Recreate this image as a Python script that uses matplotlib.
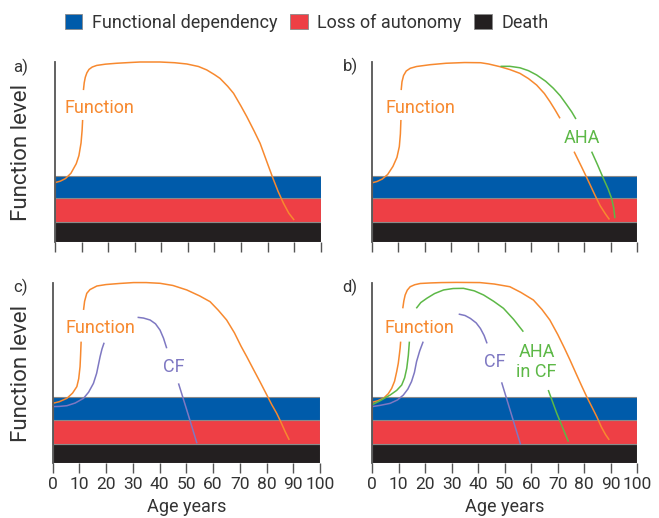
import numpy as np
import matplotlib
matplotlib.use("Agg")
import matplotlib.pyplot as plt
from matplotlib.patches import Patch

nan = np.nan

# ---------------- data ----------------
band_names = ["Death", "Loss of autonomy", "Functional dependency"]
band_bottoms = [0.0, 10.9, 24.2]
band_tops = [10.9, 24.2, 36.8]
legend_order = ["Functional dependency", "Loss of autonomy", "Death"]

x_ticks = [0, 10, 20, 30, 40, 50, 60, 70, 80, 90, 100]

# Panel a: Function
a_func_x = [0, 2, 4, 6, 8, 9, 9.8, 10.2, 10.4, nan,
            10.7, 11.0, 11.4, 12.0, 12.8, 14, 15.7, 19, 23.2, 28, 32, 39.5, 45, 49.6, 54, 57.1, 60,
            62.1, 65, 67.2, 70, 72.2, 75, 77.2, 80, 82, 84, 86, 88, 90]
a_func_y = [33, 33.8, 35.3, 38.2, 43.5, 48, 55, 62, 67.8, nan,
            84.4, 88.5, 91.5, 94, 95.9, 97.2, 98.1, 98.8, 99.3, 99.7, 100, 100, 99.6, 98.9, 97.5, 95.6, 93,
            90.9, 86.5, 82.6, 75.5, 69.6, 61.5, 54.8, 43.5, 35.5, 28, 21.5, 16, 12.2]

# Panel b: Function and AHA
b_func_x = [0.4, 2, 4, 6, 8, 9.5, 10.4, 10.8, 11.0, nan,
            11.1, 11.4, 12, 13, 14.5, 16.9, 22, 28, 35, 41, 44, 48.3, 52, 55.8, 59, 62.1, 65, 67.1, 69, 70.9, nan,
            76.2, 79, 81.6, 84, 86, 88, 89.5]
b_func_y = [33, 33.6, 35, 37.5, 42, 47, 53, 60, 67.8, nan,
            84.4, 89, 92.5, 95, 96.5, 97.5, 98.5, 99.3, 99.7, 99.6, 98.9, 97.4, 95.8, 93.7, 90.8, 87.2, 82.5, 78, 73.5, 68.7, nan,
            50.2, 41.8, 33.8, 26.2, 20.2, 15.6, 12.5]
b_aha_x = [48.5, 52, 55.8, 59, 62.1, 65.5, 68.4, 71, 73.4, 75.3, 76.9, nan,
           82.8, 85, 87.2, 89, 90.3, 91.1, 91.6]
b_aha_y = [97.6, 97.6, 96.8, 95.2, 92.8, 89.3, 85.4, 81.2, 76.3, 72.3, 68.3, nan,
           50.2, 43, 35.4, 29.5, 24.3, 19, 13.2]

# Panel c: Function and CF
c_func_x = [0, 2.5, 5.4, 7.5, 9.1, 9.8, 10.3, 10.5, 10.7, nan,
            11.6, 12, 12.8, 14, 16.6, 20, 25, 30.3, 35, 40.2, 45, 50.2, 55, 58.9, 62, 65.1, 68, 70.5,
            72.6, 75, 77.5, 80.1, 82, 83.8, 85.5, 87, 88.5]
c_func_y = [33.3, 34.2, 36.1, 39, 42.6, 47, 53.7, 60, 67.6, nan,
            85.2, 90, 94.4, 96.5, 98.5, 99.3, 99.9, 100.4, 100.4, 100, 98.8, 96.3, 93, 89.8, 85, 79.6, 72.5, 65,
            59.3, 52.5, 45.5, 38, 32.5, 27.8, 22.5, 17.5, 13]
c_cf_x = [0, 2.5, 5.4, 8.5, 11.6, 13.5, 15.3, 16.5, 17.8, 18.5, 19.3, nan,
          31.8, 34, 36.5, 38.5, 40.2, 41.5, 42.7, nan,
          47.1, 50.2, 54.0]
c_cf_y = [31.5, 31.6, 32, 33.5, 36.1, 39.5, 44.4, 50, 59.3, 63.5, 67, nan,
          81.1, 80.7, 79.6, 77.5, 74, 69.5, 63.9, nan,
          44.4, 29.6, 11.1]

# Panel d: Function, CF and AHA in CF
d_func_x = [0, 2, 4.2, 6, 7.3, 8.4, 9.2, 9.8, 10.2, 10.5, 10.7, nan,
            11.5, 11.9, 12.4, 13.2, 14.3, 16, 18.1, 22, 26, 31.8, 40.6, 46, 51.9, 56, 60.8, 64, 67, 70, 72.5,
            74.6, 77, 79, 80.9, 82.8, 84.7, 86.5, 88, 89.4]
d_func_y = [33.9, 34.7, 36.1, 38.6, 41.6, 45.6, 50.9, 55.5, 60.2, 64, 67.6, nan,
            86.1, 90.2, 93.5, 96.2, 98.1, 99.2, 99.9, 100.2, 100.4, 100.5, 100.4, 99.6, 98.1, 95, 90.7, 85.5, 79.6, 71.5, 64,
            57.4, 49.5, 43, 37, 31.5, 25.9, 20, 16, 13]
d_aha_x = [0, 3, 6.7, 9.2, 11.1, 12.2, 13.0, 13.6, 14.0, nan,
           16.6, 18.3, 20.6, 23.5, 26.9, 30.5, 34.4, 38.5, 42, 45.8, 49.5, 53.3, 57, nan,
           66.4, 69.6, 74]
d_aha_y = [32.6, 34.8, 37.9, 40.5, 43.5, 47.5, 52.8, 60, 67.6, nan,
           86.1, 89.3, 91.7, 94.3, 96.3, 97.1, 97.2, 95.8, 93.5, 90, 86.1, 80, 73.1, nan,
           40.7, 27.8, 12]
d_cf_x = [0, 3, 6.7, 9.5, 11.7, 13.4, 14.8, 15.9, 16.7, 17.9, 19.2, nan,
          32.6, 35, 37, 39.2, 40.8, 42.2, 43.3, nan,
          48.8, 52.4, 56.0]
d_cf_y = [31.5, 32.2, 33.3, 35.2, 37.9, 41.2, 45.4, 50.5, 56.5, 62.5, 67.6, nan,
          82.9, 82.1, 80.5, 78, 74.9, 71, 66.6, nan,
          45, 27.6, 10.2]

# ---------------- style ----------------
plt.rcParams['font.family'] = ['Roboto', 'DejaVu Sans']
C_BLUE = '#005BAA'
C_RED = '#EE3F45'
C_BLACK = '#231F20'
C_ORANGE = '#F7892F'
C_GREEN = '#5DB847'
C_PURPLE = '#7E78C2'
C_TEXT = '#333333'
C_AXIS = '#555555'
band_colors = {"Death": C_BLACK, "Loss of autonomy": C_RED, "Functional dependency": C_BLUE}

W, H = 659, 518
fig = plt.figure(figsize=(W / 100, H / 100), dpi=100)

def rect(l, t, r, b):
    return [l / W, 1 - b / H, (r - l) / W, (b - t) / H]

axes = {
    'a': fig.add_axes(rect(55, 62, 320.7, 242)),
    'b': fig.add_axes(rect(371.7, 62, 637.3, 242)),
    'c': fig.add_axes(rect(52.5, 283.3, 320, 463.3)),
    'd': fig.add_axes(rect(372.3, 283.3, 637.3, 463.3)),
}

LW = 1.1
TXT = 13

for key, ax in axes.items():
    for name, b0, b1 in zip(band_names, band_bottoms, band_tops):
        ax.barh(b0, 100, height=b1 - b0, left=0, align='edge',
                color=band_colors[name], edgecolor='#8a8a8a', linewidth=0.8, zorder=1)
    ax.set_xlim(0, 100)
    ax.set_ylim(0, 100)
    for s in ['top', 'right', 'bottom']:
        ax.spines[s].set_visible(False)
    ax.spines['left'].set_color(C_AXIS)
    ax.spines['left'].set_linewidth(1.3)
    ax.spines['left'].set_zorder(5)
    ax.set_yticks([])
    ax.set_xticks(x_ticks)
    ax.tick_params(axis='x', direction='out', length=7, width=1, color=C_AXIS,
                   labelsize=12.5, labelcolor=C_TEXT, pad=3)
    ax.patch.set_alpha(0)
    if key in ('a', 'b'):
        ax.set_xticklabels([])
    else:
        ax.set_xlabel("Age years", fontsize=13, color=C_TEXT, labelpad=4)

# curves
def curve(ax, x, y, c):
    ax.plot(x, y, color=c, lw=LW, zorder=3, solid_capstyle='butt',
            solid_joinstyle='round', clip_on=False)

curve(axes['a'], a_func_x, a_func_y, C_ORANGE)
curve(axes['b'], b_func_x, b_func_y, C_ORANGE)
curve(axes['b'], b_aha_x, b_aha_y, C_GREEN)
curve(axes['c'], c_func_x, c_func_y, C_ORANGE)
curve(axes['c'], c_cf_x, c_cf_y, C_PURPLE)
curve(axes['d'], d_func_x, d_func_y, C_ORANGE)
curve(axes['d'], d_aha_x, d_aha_y, C_GREEN)
curve(axes['d'], d_cf_x, d_cf_y, C_PURPLE)

# in-plot labels
axes['a'].text(16.9, 74.6, "Function", color=C_ORANGE, fontsize=TXT, ha='center', va='center')
axes['b'].text(18.2, 74.6, "Function", color=C_ORANGE, fontsize=TXT, ha='center', va='center')
axes['b'].text(79.2, 57.8, "AHA", color=C_GREEN, fontsize=TXT, ha='center', va='center')
axes['c'].text(17.8, 75.4, "Function", color=C_ORANGE, fontsize=TXT, ha='center', va='center')
axes['c'].text(45.2, 53.7, "CF", color=C_PURPLE, fontsize=TXT, ha='center', va='center')
axes['d'].text(17.7, 75.4, "Function", color=C_ORANGE, fontsize=TXT, ha='center', va='center')
axes['d'].text(46.3, 56.5, "CF", color=C_PURPLE, fontsize=TXT, ha='center', va='center')
axes['d'].text(62.0, 56.3, "AHA\nin CF", color=C_GREEN, fontsize=TXT, ha='center', va='center',
               multialignment='center', linespacing=1.2)

# panel letters
for lab, (px, py) in {'a)': (21, 67), 'b)': (350, 66), 'c)': (21, 287), 'd)': (350, 287)}.items():
    fig.text(px / W, 1 - py / H, lab, fontsize=12, color=C_TEXT, ha='center', va='center')

# y labels
for py in (152, 373.3):
    fig.text(21.5 / W, 1 - py / H, "Function level", rotation=90, fontsize=16,
             color=C_TEXT, ha='center', va='center')

# legend
handles = [Patch(facecolor=band_colors[n], edgecolor='#8a8a8a', linewidth=0.6, label=n)
           for n in legend_order]
fig.legend(handles=handles, loc='center', bbox_to_anchor=(307 / W, 1 - 22.5 / H), ncol=3,
           frameon=False, fontsize=13, handlelength=0.95, handleheight=0.95,
           handletextpad=0.55, columnspacing=0.7, labelcolor=C_TEXT, borderpad=0)

fig.savefig("out.png", dpi=100)
